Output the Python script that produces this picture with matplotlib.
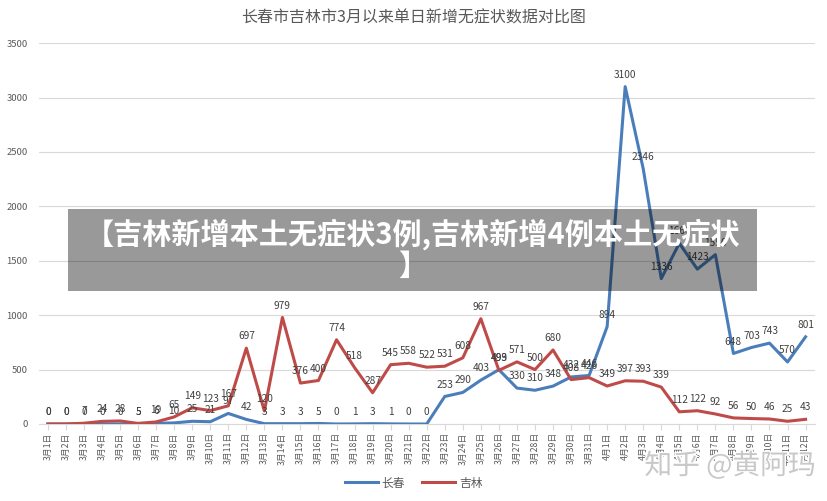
import matplotlib
matplotlib.use("Agg")
import matplotlib.pyplot as plt
from matplotlib.patches import Rectangle
import matplotlib.patheffects as pe

plt.rcParams['font.family'] = ['Noto Sans CJK SC', 'DejaVu Sans']

dates = [f"3月{d}日" for d in range(1, 32)] + [f"4月{d}日" for d in range(1, 13)]
changchun = [0, 0, 0, 0, 0, 5, 6, 10, 25, 21, 97, 42, 3, 3, 3, 5, 0, 1, 3, 1, 0, 0,
             253, 290, 403, 499, 330, 310, 348, 432, 446, 894, 3100, 2346, 1336, 1660,
             1423, 1556, 648, 703, 743, 570, 801]
jilin = [0, 0, 7, 24, 28, 5, 19, 65, 149, 123, 167, 697, 120, 979, 376, 400, 774, 518,
         287, 545, 558, 522, 531, 608, 967, 493, 571, 500, 680, 408, 426, 349, 397, 393,
         339, 112, 122, 92, 56, 50, 46, 25, 43]

title = "长春市吉林市3月以来单日新增无症状数据对比图"
banner = "【吉林新增本土无症状3例,吉林新增4例本土无症状\n】"
blue = '#4A7EBB'
red = '#BE4B48'

fig = plt.figure(figsize=(8.27, 5.01), dpi=100)
ax = fig.add_axes([0.047, 0.1537, 0.938, 0.7603])
x = list(range(len(dates)))
ax.plot(x, changchun, color=blue, lw=2.2, label='长春', zorder=3)
ax.plot(x, jilin, color=red, lw=2.2, label='吉林', zorder=3)

for series in (changchun, jilin):
    for i, v in enumerate(series):
        ax.annotate(str(v), (i, v), xytext=(0, 5), textcoords='offset points',
                    ha='center', va='bottom', fontsize=7.3, color='#404040', zorder=4)

ax.set_xlim(-0.5, len(dates) - 0.5)
ax.set_ylim(0, 3500)
ax.set_yticks(range(0, 3501, 500))
ax.set_xticks(x)
ax.set_xticklabels(dates, rotation=90, fontsize=6.3, color='#595959')
ax.tick_params(axis='y', labelsize=6.8, labelcolor='#595959', length=0, pad=8)
ax.tick_params(axis='x', length=4, color='#d9d9d9', pad=2, direction='out')
ax.grid(axis='y', color='#d9d9d9', lw=0.8)
ax.set_axisbelow(True)
for s in ['top', 'right', 'left']:
    ax.spines[s].set_visible(False)
ax.spines['bottom'].set_color('#d9d9d9')

fig.text(0.5, 0.965, title, ha='center', va='center', fontsize=11.5, color='#595959')

leg = fig.legend(loc='center', bbox_to_anchor=(0.5, 1 - 483 / 501), ncol=2, frameon=False,
                 fontsize=8.5, handlelength=2.8, columnspacing=1.5, handletextpad=0.3)
for t in leg.get_texts():
    t.set_color('#595959')

# banner overlay
fig.patches.append(Rectangle((68 / 827, 1 - 291 / 501), (757 - 68) / 827, 82 / 501,
                             transform=fig.transFigure, facecolor='black', alpha=0.4,
                             edgecolor='none', zorder=10))
fig.text(413 / 827, 1 - 250 / 501, banner, ha='center', va='center', fontsize=21,
         color='white', fontweight='bold', linespacing=1.05, zorder=11)

# watermark
fig.text(730 / 827, 1 - 466 / 501, "知乎 @黄阿玛", ha='center', va='center',
         fontsize=20, color='#c8c8c8', zorder=12,
         path_effects=[pe.withStroke(linewidth=2, foreground='white')])

fig.savefig('out.png', dpi=100)
